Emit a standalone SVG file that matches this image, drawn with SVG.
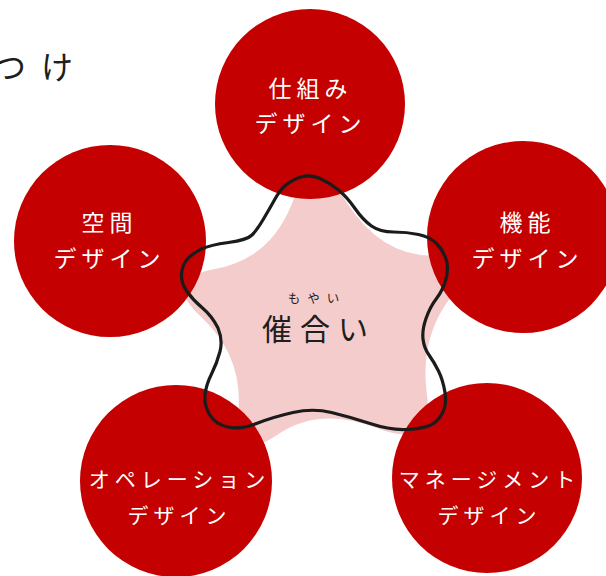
<svg xmlns="http://www.w3.org/2000/svg" width="606" height="576" viewBox="0 0 606 576">
<style>
.c{fill:#c40000}
.t{fill:#fff;font-family:"Noto Sans CJK JP","Noto Sans",sans-serif;text-anchor:middle}
.tl{font-size:23px;letter-spacing:5px}
.ts{font-size:21px;letter-spacing:5px}
.k{fill:#1e1e1e;font-family:"Noto Sans CJK JP","Noto Sans",sans-serif}
</style>
<rect width="606" height="576" fill="#fff"/>
<text class="k" x="-6" y="78.5" font-size="32" letter-spacing="15">つけ</text>
<path id="star-fill" fill="#f4cccc" d="M 336.6 202.7 Q 313.1 150.4 346.9 202.7 Q 380.6 255 431.6 255.7 Q 482.6 256.3 451 297.1 Q 419.4 337.8 426.9 394 Q 434.3 450.2 376.7 428 Q 319 405.8 277 435 Q 234.9 464.2 238.6 409.6 Q 242.3 355 201.2 317 Q 160 278.9 214.9 269 Q 269.7 259 291.4 204.7 Q 313.1 150.4 336.6 202.7 Z"/>
<g id="node-shikumi">
<circle class="c" cx="310" cy="104" r="95"/>
<text class="t tl" x="310.5" y="97">仕組み</text>
<text class="t tl" x="310.5" y="132">デザイン</text>
</g>
<g id="node-kukan">
<circle class="c" cx="110" cy="241" r="96"/>
<text class="t tl" x="109.5" y="230.5">空間</text>
<text class="t tl" x="109.5" y="266.5">デザイン</text>
</g>
<g id="node-kino">
<circle class="c" cx="523" cy="237" r="96"/>
<text class="t tl" x="527.5" y="230.5">機能</text>
<text class="t tl" x="527.5" y="266.5">デザイン</text>
</g>
<g id="node-operation">
<circle class="c" cx="176" cy="481" r="96"/>
<text class="t ts" x="179.5" y="487">オペレーション</text>
<text class="t ts" x="179.5" y="523">デザイン</text>
</g>
<g id="node-management">
<circle class="c" cx="487" cy="478" r="95"/>
<text class="t ts" x="489.5" y="487">マネージメント</text>
<text class="t ts" x="489.5" y="523">デザイン</text>
</g>
<g id="connectors"></g>
<g id="node-moyai">
<path fill="none" stroke="#1b1b1b" stroke-width="3.2" stroke-linejoin="round" d="M 301 177 Q 310 174 320 178.5 Q 330 183 338.5 190 Q 347 197 355 208.5 Q 363 220 371.5 226 Q 380 232 393.5 232 Q 407 232 418.5 234.5 Q 430 237 436.5 243.5 Q 443 250 446 259 Q 449 268 446 279 Q 443 290 436.5 298.5 Q 430 307 426 318.5 Q 422 330 423 339 Q 424 348 429 355 Q 434 362 438.5 371 Q 443 380 445 392.5 Q 447 405 442 414 Q 437 423 428.5 426 Q 420 429 405 429.5 Q 390 430 370 423.5 Q 350 417 331.5 412.5 Q 313 408 293 412.5 Q 273 417 256.5 423.5 Q 240 430 227.5 427 Q 215 424 209.5 414.5 Q 204 405 205 395 Q 206 385 211.5 374 Q 217 363 220 351.5 Q 223 340 218 328 Q 212 316 202.5 308 Q 193 300 187 291.5 Q 181 283 181.5 274 Q 182 265 187.5 259 Q 193 253 201.5 249 Q 210 245 228.5 242.5 Q 247 240 252 235 Q 257 230 263.5 219 Q 270 208 275 199 Q 280 190 286 185 Q 292 180 301 177 Z"/>
<text class="k" x="317" y="303" font-size="12.5" letter-spacing="7" text-anchor="middle">もやい</text>
<text class="k" x="319" y="339.5" font-size="30" letter-spacing="8" text-anchor="middle">催合い</text>
</g>
</svg>
